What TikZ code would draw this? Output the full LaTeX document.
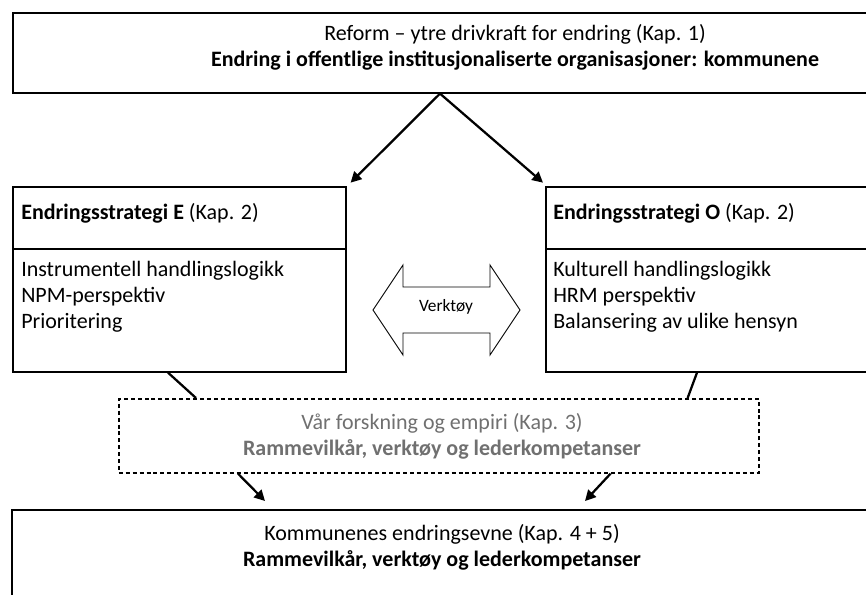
\documentclass[tikz,border=0pt]{standalone}
\usepackage{fontspec}
\setmainfont{Carlito}
\usetikzlibrary{positioning,arrows.meta}
\definecolor{gratekst}{RGB}{112,112,112}
\tikzset{
  boks/.style={draw, line width=1.2pt, inner sep=0pt, anchor=north west},
  tekst/.style={font=\fontsize{16.5}{19.5}\selectfont, inner sep=0pt},
  pil/.style={line width=1.7pt, -{Triangle[length=8pt,width=8pt]}},
  strek/.style={line width=1.7pt},
}
\begin{document}
\begin{tikzpicture}[x=0.75pt,y=-0.75pt]
\useasboundingbox (0,0) rectangle (866,594);
\clip (0,0) rectangle (866,594);

% reform (topp)
\node[boks, minimum width=763.5pt, minimum height=60pt] (reform) at (12,12) {};
\node[tekst, align=center] (reformtekst) at (515,47) {Reform -- ytre drivkraft for endring (Kap. 1)\\\textbf{Endring i offentlige institusjonaliserte organisasjoner: kommunene}};

% strategi E og O
\node[boks, minimum width=249.75pt, minimum height=138.75pt] (stratE) at (12,186) {};
\node[boks, minimum width=255pt, minimum height=138.75pt] (stratO) at (545,186) {};
\draw[line width=0.8pt] (12,249) -- (345,249);
\draw[line width=0.8pt] (545,249) -- (885,249);
\node[tekst, anchor=west] (stratEtittel) at (21,213) {\textbf{Endringsstrategi E} (Kap. 2)};
\node[tekst, anchor=west] (stratOtittel) at (553,213) {\textbf{Endringsstrategi O} (Kap. 2)};
\node[tekst, anchor=north west, align=left] (stratEliste) at (21,261) {Instrumentell handlingslogikk\\NPM-perspektiv\\Prioritering};
\node[tekst, anchor=north west, align=left] (stratOliste) at (553,261) {Kulturell handlingslogikk\\HRM perspektiv\\Balansering av ulike hensyn};

% verktøy (dobbel pil)
\draw[line width=0.7pt] (373,310) -- (403,265) -- (403,287) -- (490,287) -- (490,265) -- (520,310)
  -- (490,355) -- (490,333) -- (403,333) -- (403,355) -- cycle;
\node[font=\fontsize{13}{15}\selectfont, inner sep=0pt] (verktoy) at (446,307) {Verktøy};

% forskning (stiplet)
\node[boks, dashed, dash pattern=on 3pt off 2.2pt, minimum width=480pt, minimum height=55.5pt] (forsk) at (118,398) {};
\node[tekst, align=center, text=gratekst] (forsktekst) at (442,436) {Vår forskning og empiri (Kap. 3)\\\textbf{Rammevilkår, verktøy og lederkompetanser}};

% endringsevne (bunn)
\node[boks, minimum width=651pt, minimum height=90pt] (evne) at (11,509) {};
\node[tekst, align=center] (evnetekst) at (442,547) {Kommunenes endringsevne (Kap. 4 + 5)\\\textbf{Rammevilkår, verktøy og lederkompetanser}};

% piler og streker
\draw[pil] ([xshift=321pt]reform.south west) -- ([xshift=3pt,yshift=2.5pt]stratE.north east);
\draw[pil] ([xshift=321pt]reform.south west) -- ([xshift=-1.5pt,yshift=2.5pt]stratO.north west);
\draw[strek] ([xshift=117pt]stratE.south west) -- ([xshift=58.5pt]forsk.north west);
\draw[strek] ([xshift=114pt]stratO.south west) -- ([xshift=-54pt]forsk.north east);
\draw[pil] ([xshift=90pt]forsk.south west) -- ([xshift=190.5pt,yshift=6pt]evne.north west);
\draw[pil] ([xshift=-111.75pt]forsk.south east) -- ([xshift=430.5pt,yshift=6pt]evne.north west);
\end{tikzpicture}
\end{document}
